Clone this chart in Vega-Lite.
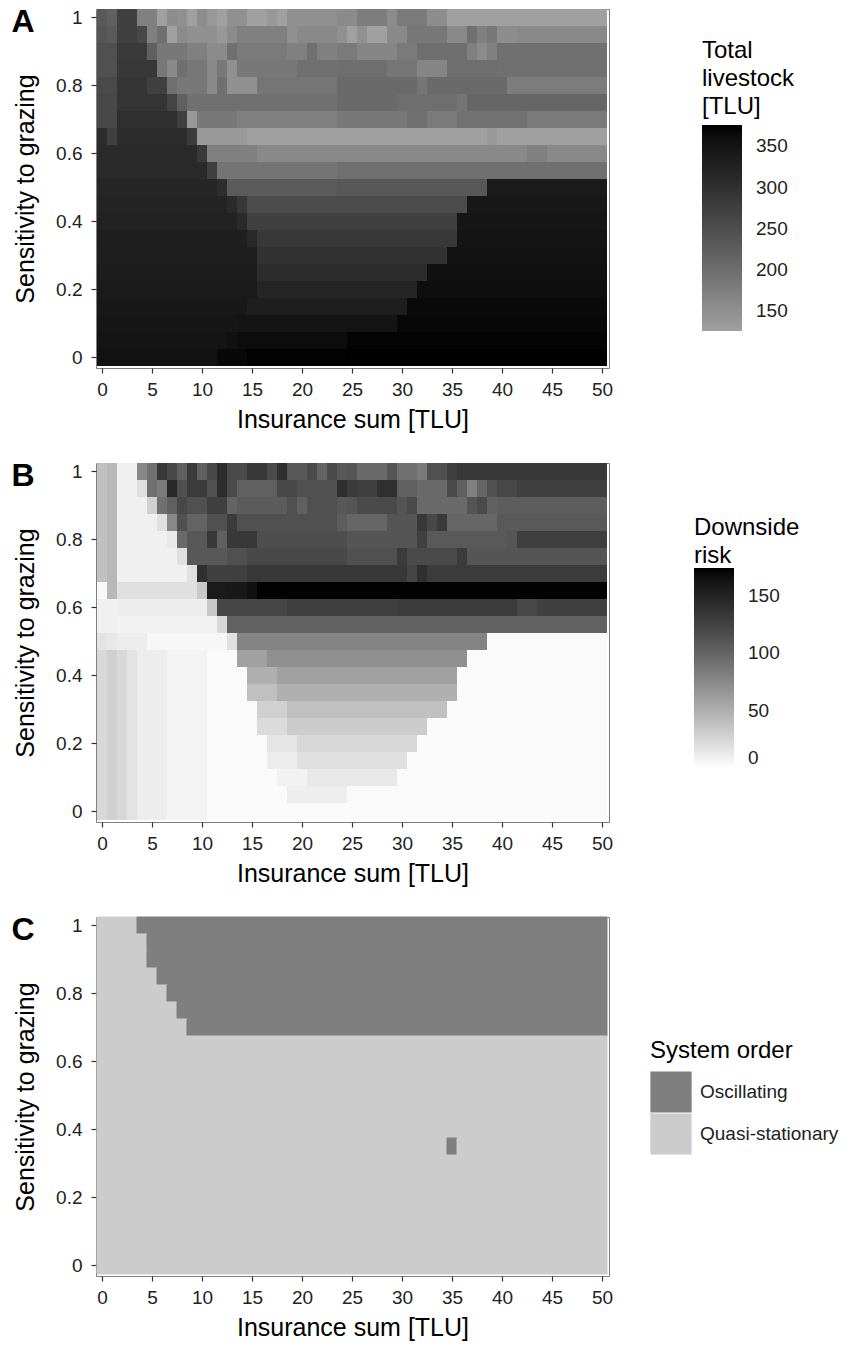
{
  "$schema": "https://vega.github.io/schema/vega-lite/v6.json",
  "background": "white",
  "padding": {"left": 10, "top": 5, "right": 5, "bottom": 4},
  "config": {
    "font": "Liberation Sans",
    "view": {"stroke": "#7f7f7f", "strokeWidth": 1},
    "axis": {"grid": false, "domain": false, "tickColor": "#333333", "tickSize": 5, "tickWidth": 1.2, "labelFontSize": 19, "labelColor": "#222222", "titleFontSize": 25, "titleFontWeight": "normal", "titleColor": "#000000"},
    "axisX": {"labelPadding": 7, "titlePadding": 8},
    "axisY": {"labelPadding": 9, "titlePadding": 17},
    "legend": {"titleFontSize": 24, "titleFontWeight": "normal", "titleColor": "#000000", "labelFontSize": 19, "labelColor": "#222222", "gradientThickness": 40, "gradientStrokeWidth": 0, "labelOffset": 12, "titleLineHeight": 28}
  },
  "datasets": {
    "livestock": [
      {"x":-0.5,"x2":0.5,"y":0.975,"y2":1.025,"tlu":231},{"x":0.5,"x2":1.5,"y":0.975,"y2":1.025,"tlu":221},{"x":1.5,"x2":3.5,"y":0.975,"y2":1.025,"tlu":273},{"x":3.5,"x2":5.5,"y":0.975,"y2":1.025,"tlu":172},{"x":5.5,"x2":6.5,"y":0.975,"y2":1.025,"tlu":126},{"x":6.5,"x2":7.5,"y":0.975,"y2":1.025,"tlu":154},{"x":7.5,"x2":8.5,"y":0.975,"y2":1.025,"tlu":149},{"x":8.5,"x2":9.5,"y":0.975,"y2":1.025,"tlu":126},{"x":9.5,"x2":10.5,"y":0.975,"y2":1.025,"tlu":154},{"x":10.5,"x2":11.5,"y":0.975,"y2":1.025,"tlu":137},{"x":11.5,"x2":12.5,"y":0.975,"y2":1.025,"tlu":126},{"x":12.5,"x2":14.5,"y":0.975,"y2":1.025,"tlu":149},{"x":14.5,"x2":16.5,"y":0.975,"y2":1.025,"tlu":126},{"x":16.5,"x2":17.5,"y":0.975,"y2":1.025,"tlu":137},{"x":17.5,"x2":18.5,"y":0.975,"y2":1.025,"tlu":126},{"x":18.5,"x2":23.5,"y":0.975,"y2":1.025,"tlu":149},{"x":23.5,"x2":25.5,"y":0.975,"y2":1.025,"tlu":157},{"x":25.5,"x2":28.5,"y":0.975,"y2":1.025,"tlu":177},{"x":28.5,"x2":29.5,"y":0.975,"y2":1.025,"tlu":157},{"x":29.5,"x2":32.5,"y":0.975,"y2":1.025,"tlu":181},{"x":32.5,"x2":34.5,"y":0.975,"y2":1.025,"tlu":154},{"x":34.5,"x2":50.5,"y":0.975,"y2":1.025,"tlu":126},
      {"x":-0.5,"x2":0.5,"y":0.925,"y2":0.975,"tlu":239},{"x":0.5,"x2":1.5,"y":0.925,"y2":0.975,"tlu":231},{"x":1.5,"x2":3.5,"y":0.925,"y2":0.975,"tlu":273},{"x":3.5,"x2":4.5,"y":0.925,"y2":0.975,"tlu":260},{"x":4.5,"x2":5.5,"y":0.925,"y2":0.975,"tlu":172},{"x":5.5,"x2":6.5,"y":0.925,"y2":0.975,"tlu":197},{"x":6.5,"x2":7.5,"y":0.925,"y2":0.975,"tlu":126},{"x":7.5,"x2":8.5,"y":0.925,"y2":0.975,"tlu":157},{"x":8.5,"x2":11.5,"y":0.925,"y2":0.975,"tlu":149},{"x":11.5,"x2":12.5,"y":0.925,"y2":0.975,"tlu":137},{"x":12.5,"x2":13.5,"y":0.925,"y2":0.975,"tlu":157},{"x":13.5,"x2":18.5,"y":0.925,"y2":0.975,"tlu":172},{"x":18.5,"x2":19.5,"y":0.925,"y2":0.975,"tlu":149},{"x":19.5,"x2":23.5,"y":0.925,"y2":0.975,"tlu":160},{"x":23.5,"x2":24.5,"y":0.925,"y2":0.975,"tlu":149},{"x":24.5,"x2":25.5,"y":0.925,"y2":0.975,"tlu":126},{"x":25.5,"x2":26.5,"y":0.925,"y2":0.975,"tlu":149},{"x":26.5,"x2":28.5,"y":0.925,"y2":0.975,"tlu":126},{"x":28.5,"x2":30.5,"y":0.925,"y2":0.975,"tlu":160},{"x":30.5,"x2":34.5,"y":0.925,"y2":0.975,"tlu":185},{"x":34.5,"x2":36.5,"y":0.925,"y2":0.975,"tlu":160},{"x":36.5,"x2":37.5,"y":0.925,"y2":0.975,"tlu":197},{"x":37.5,"x2":38.5,"y":0.925,"y2":0.975,"tlu":172},{"x":38.5,"x2":39.5,"y":0.925,"y2":0.975,"tlu":185},{"x":39.5,"x2":41.5,"y":0.925,"y2":0.975,"tlu":154},{"x":41.5,"x2":50.5,"y":0.925,"y2":0.975,"tlu":160},
      {"x":-0.5,"x2":1.5,"y":0.875,"y2":0.925,"tlu":247},{"x":1.5,"x2":4.5,"y":0.875,"y2":0.925,"tlu":283},{"x":4.5,"x2":5.5,"y":0.875,"y2":0.925,"tlu":221},{"x":5.5,"x2":8.5,"y":0.875,"y2":0.925,"tlu":185},{"x":8.5,"x2":10.5,"y":0.875,"y2":0.925,"tlu":172},{"x":10.5,"x2":12.5,"y":0.875,"y2":0.925,"tlu":157},{"x":12.5,"x2":13.5,"y":0.875,"y2":0.925,"tlu":197},{"x":13.5,"x2":18.5,"y":0.875,"y2":0.925,"tlu":181},{"x":18.5,"x2":20.5,"y":0.875,"y2":0.925,"tlu":172},{"x":20.5,"x2":21.5,"y":0.875,"y2":0.925,"tlu":197},{"x":21.5,"x2":23.5,"y":0.875,"y2":0.925,"tlu":172},{"x":23.5,"x2":25.5,"y":0.875,"y2":0.925,"tlu":181},{"x":25.5,"x2":29.5,"y":0.875,"y2":0.925,"tlu":165},{"x":29.5,"x2":31.5,"y":0.875,"y2":0.925,"tlu":181},{"x":31.5,"x2":36.5,"y":0.875,"y2":0.925,"tlu":200},{"x":36.5,"x2":37.5,"y":0.875,"y2":0.925,"tlu":172},{"x":37.5,"x2":38.5,"y":0.875,"y2":0.925,"tlu":157},{"x":38.5,"x2":39.5,"y":0.875,"y2":0.925,"tlu":172},{"x":39.5,"x2":50.5,"y":0.875,"y2":0.925,"tlu":197},
      {"x":-0.5,"x2":1.5,"y":0.825,"y2":0.875,"tlu":247},{"x":1.5,"x2":5.5,"y":0.825,"y2":0.875,"tlu":287},{"x":5.5,"x2":6.5,"y":0.825,"y2":0.875,"tlu":185},{"x":6.5,"x2":7.5,"y":0.825,"y2":0.875,"tlu":160},{"x":7.5,"x2":8.5,"y":0.825,"y2":0.875,"tlu":197},{"x":8.5,"x2":10.5,"y":0.825,"y2":0.875,"tlu":185},{"x":10.5,"x2":11.5,"y":0.825,"y2":0.875,"tlu":160},{"x":11.5,"x2":12.5,"y":0.825,"y2":0.875,"tlu":185},{"x":12.5,"x2":13.5,"y":0.825,"y2":0.875,"tlu":149},{"x":13.5,"x2":19.5,"y":0.825,"y2":0.875,"tlu":185},{"x":19.5,"x2":23.5,"y":0.825,"y2":0.875,"tlu":197},{"x":23.5,"x2":28.5,"y":0.825,"y2":0.875,"tlu":200},{"x":28.5,"x2":31.5,"y":0.825,"y2":0.875,"tlu":189},{"x":31.5,"x2":34.5,"y":0.825,"y2":0.875,"tlu":165},{"x":34.5,"x2":39.5,"y":0.825,"y2":0.875,"tlu":200},{"x":39.5,"x2":50.5,"y":0.825,"y2":0.875,"tlu":197},
      {"x":-0.5,"x2":1.5,"y":0.775,"y2":0.825,"tlu":257},{"x":1.5,"x2":4.5,"y":0.775,"y2":0.825,"tlu":292},{"x":4.5,"x2":6.5,"y":0.775,"y2":0.825,"tlu":273},{"x":6.5,"x2":7.5,"y":0.775,"y2":0.825,"tlu":197},{"x":7.5,"x2":10.5,"y":0.775,"y2":0.825,"tlu":185},{"x":10.5,"x2":11.5,"y":0.775,"y2":0.825,"tlu":160},{"x":11.5,"x2":12.5,"y":0.775,"y2":0.825,"tlu":197},{"x":12.5,"x2":15.5,"y":0.775,"y2":0.825,"tlu":149},{"x":15.5,"x2":23.5,"y":0.775,"y2":0.825,"tlu":189},{"x":23.5,"x2":31.5,"y":0.775,"y2":0.825,"tlu":206},{"x":31.5,"x2":32.5,"y":0.775,"y2":0.825,"tlu":189},{"x":32.5,"x2":40.5,"y":0.775,"y2":0.825,"tlu":206},{"x":40.5,"x2":50.5,"y":0.775,"y2":0.825,"tlu":178},
      {"x":-0.5,"x2":1.5,"y":0.725,"y2":0.775,"tlu":260},{"x":1.5,"x2":6.5,"y":0.725,"y2":0.775,"tlu":292},{"x":6.5,"x2":7.5,"y":0.725,"y2":0.775,"tlu":265},{"x":7.5,"x2":8.5,"y":0.725,"y2":0.775,"tlu":221},{"x":8.5,"x2":23.5,"y":0.725,"y2":0.775,"tlu":197},{"x":23.5,"x2":29.5,"y":0.725,"y2":0.775,"tlu":206},{"x":29.5,"x2":35.5,"y":0.725,"y2":0.775,"tlu":200},{"x":35.5,"x2":36.5,"y":0.725,"y2":0.775,"tlu":189},{"x":36.5,"x2":50.5,"y":0.725,"y2":0.775,"tlu":212},
      {"x":-0.5,"x2":1.5,"y":0.675,"y2":0.725,"tlu":260},{"x":1.5,"x2":7.5,"y":0.675,"y2":0.725,"tlu":302},{"x":7.5,"x2":8.5,"y":0.675,"y2":0.725,"tlu":273},{"x":8.5,"x2":9.5,"y":0.675,"y2":0.725,"tlu":137},{"x":9.5,"x2":13.5,"y":0.675,"y2":0.725,"tlu":185},{"x":13.5,"x2":23.5,"y":0.675,"y2":0.725,"tlu":172},{"x":23.5,"x2":30.5,"y":0.675,"y2":0.725,"tlu":185},{"x":30.5,"x2":32.5,"y":0.675,"y2":0.725,"tlu":197},{"x":32.5,"x2":35.5,"y":0.675,"y2":0.725,"tlu":181},{"x":35.5,"x2":42.5,"y":0.675,"y2":0.725,"tlu":194},{"x":42.5,"x2":50.5,"y":0.675,"y2":0.725,"tlu":181},
      {"x":-0.5,"x2":0.5,"y":0.625,"y2":0.675,"tlu":308},{"x":0.5,"x2":1.5,"y":0.625,"y2":0.675,"tlu":273},{"x":1.5,"x2":8.5,"y":0.625,"y2":0.675,"tlu":308},{"x":8.5,"x2":9.5,"y":0.625,"y2":0.675,"tlu":280},{"x":9.5,"x2":14.5,"y":0.625,"y2":0.675,"tlu":137},{"x":14.5,"x2":38.5,"y":0.625,"y2":0.675,"tlu":126},{"x":38.5,"x2":39.5,"y":0.625,"y2":0.675,"tlu":137},{"x":39.5,"x2":50.5,"y":0.625,"y2":0.675,"tlu":126},
      {"x":-0.5,"x2":9.5,"y":0.575,"y2":0.625,"tlu":311},{"x":9.5,"x2":10.5,"y":0.575,"y2":0.625,"tlu":283},{"x":10.5,"x2":15.5,"y":0.575,"y2":0.625,"tlu":172},{"x":15.5,"x2":42.5,"y":0.575,"y2":0.625,"tlu":160},{"x":42.5,"x2":44.5,"y":0.575,"y2":0.625,"tlu":172},{"x":44.5,"x2":50.5,"y":0.575,"y2":0.625,"tlu":160},
      {"x":-0.5,"x2":10.5,"y":0.525,"y2":0.575,"tlu":311},{"x":10.5,"x2":11.5,"y":0.525,"y2":0.575,"tlu":273},{"x":11.5,"x2":23.5,"y":0.525,"y2":0.575,"tlu":191},{"x":23.5,"x2":50.5,"y":0.525,"y2":0.575,"tlu":197},
      {"x":-0.5,"x2":11.5,"y":0.475,"y2":0.525,"tlu":318},{"x":11.5,"x2":12.5,"y":0.475,"y2":0.525,"tlu":305},{"x":12.5,"x2":23.5,"y":0.475,"y2":0.525,"tlu":229},{"x":23.5,"x2":38.5,"y":0.475,"y2":0.525,"tlu":234},{"x":38.5,"x2":50.5,"y":0.475,"y2":0.525,"tlu":341},
      {"x":-0.5,"x2":12.5,"y":0.425,"y2":0.475,"tlu":322},{"x":12.5,"x2":13.5,"y":0.425,"y2":0.475,"tlu":311},{"x":13.5,"x2":14.5,"y":0.425,"y2":0.475,"tlu":287},{"x":14.5,"x2":36.5,"y":0.425,"y2":0.475,"tlu":255},{"x":36.5,"x2":50.5,"y":0.425,"y2":0.475,"tlu":344},
      {"x":-0.5,"x2":13.5,"y":0.375,"y2":0.425,"tlu":326},{"x":13.5,"x2":14.5,"y":0.375,"y2":0.425,"tlu":311},{"x":14.5,"x2":35.5,"y":0.375,"y2":0.425,"tlu":273},{"x":35.5,"x2":50.5,"y":0.375,"y2":0.425,"tlu":349},
      {"x":-0.5,"x2":14.5,"y":0.325,"y2":0.375,"tlu":331},{"x":14.5,"x2":15.5,"y":0.325,"y2":0.375,"tlu":315},{"x":15.5,"x2":35.5,"y":0.325,"y2":0.375,"tlu":287},{"x":35.5,"x2":50.5,"y":0.325,"y2":0.375,"tlu":352},
      {"x":-0.5,"x2":15.5,"y":0.275,"y2":0.325,"tlu":333},{"x":15.5,"x2":34.5,"y":0.275,"y2":0.325,"tlu":297},{"x":34.5,"x2":50.5,"y":0.275,"y2":0.325,"tlu":355},
      {"x":-0.5,"x2":15.5,"y":0.225,"y2":0.275,"tlu":337},{"x":15.5,"x2":32.5,"y":0.225,"y2":0.275,"tlu":308},{"x":32.5,"x2":50.5,"y":0.225,"y2":0.275,"tlu":358},
      {"x":-0.5,"x2":15.5,"y":0.175,"y2":0.225,"tlu":341},{"x":15.5,"x2":31.5,"y":0.175,"y2":0.225,"tlu":320},{"x":31.5,"x2":50.5,"y":0.175,"y2":0.225,"tlu":361},
      {"x":-0.5,"x2":14.5,"y":0.125,"y2":0.175,"tlu":344},{"x":14.5,"x2":30.5,"y":0.125,"y2":0.175,"tlu":333},{"x":30.5,"x2":50.5,"y":0.125,"y2":0.175,"tlu":366},
      {"x":-0.5,"x2":13.5,"y":0.075,"y2":0.125,"tlu":349},{"x":13.5,"x2":29.5,"y":0.075,"y2":0.125,"tlu":352},{"x":29.5,"x2":50.5,"y":0.075,"y2":0.125,"tlu":368},
      {"x":-0.5,"x2":12.5,"y":0.025,"y2":0.075,"tlu":352},{"x":12.5,"x2":13.5,"y":0.025,"y2":0.075,"tlu":358},{"x":13.5,"x2":24.5,"y":0.025,"y2":0.075,"tlu":363},{"x":24.5,"x2":50.5,"y":0.025,"y2":0.075,"tlu":372},
      {"x":-0.5,"x2":11.5,"y":-0.025,"y2":0.025,"tlu":355},{"x":11.5,"x2":14.5,"y":-0.025,"y2":0.025,"tlu":368},{"x":14.5,"x2":24.5,"y":-0.025,"y2":0.025,"tlu":374},{"x":24.5,"x2":50.5,"y":-0.025,"y2":0.025,"tlu":376}
    ],
    "risk": [
      {"x":-0.5,"x2":0.5,"y":0.975,"y2":1.025,"risk":39},{"x":0.5,"x2":1.5,"y":0.975,"y2":1.025,"risk":44},{"x":1.5,"x2":3.5,"y":0.975,"y2":1.025,"risk":9},{"x":3.5,"x2":4.5,"y":0.975,"y2":1.025,"risk":75},{"x":4.5,"x2":5.5,"y":0.975,"y2":1.025,"risk":92},{"x":5.5,"x2":6.5,"y":0.975,"y2":1.025,"risk":133},{"x":6.5,"x2":7.5,"y":0.975,"y2":1.025,"risk":121},{"x":7.5,"x2":8.5,"y":0.975,"y2":1.025,"risk":103},{"x":8.5,"x2":9.5,"y":0.975,"y2":1.025,"risk":131},{"x":9.5,"x2":10.5,"y":0.975,"y2":1.025,"risk":103},{"x":10.5,"x2":11.5,"y":0.975,"y2":1.025,"risk":121},{"x":11.5,"x2":12.5,"y":0.975,"y2":1.025,"risk":143},{"x":12.5,"x2":14.5,"y":0.975,"y2":1.025,"risk":119},{"x":14.5,"x2":16.5,"y":0.975,"y2":1.025,"risk":133},{"x":16.5,"x2":17.5,"y":0.975,"y2":1.025,"risk":119},{"x":17.5,"x2":18.5,"y":0.975,"y2":1.025,"risk":140},{"x":18.5,"x2":20.5,"y":0.975,"y2":1.025,"risk":109},{"x":20.5,"x2":21.5,"y":0.975,"y2":1.025,"risk":119},{"x":21.5,"x2":22.5,"y":0.975,"y2":1.025,"risk":100},{"x":22.5,"x2":23.5,"y":0.975,"y2":1.025,"risk":119},{"x":23.5,"x2":24.5,"y":0.975,"y2":1.025,"risk":109},{"x":24.5,"x2":25.5,"y":0.975,"y2":1.025,"risk":111},{"x":25.5,"x2":28.5,"y":0.975,"y2":1.025,"risk":96},{"x":28.5,"x2":29.5,"y":0.975,"y2":1.025,"risk":111},{"x":29.5,"x2":31.5,"y":0.975,"y2":1.025,"risk":92},{"x":31.5,"x2":32.5,"y":0.975,"y2":1.025,"risk":85},{"x":32.5,"x2":34.5,"y":0.975,"y2":1.025,"risk":115},{"x":34.5,"x2":35.5,"y":0.975,"y2":1.025,"risk":127},{"x":35.5,"x2":50.5,"y":0.975,"y2":1.025,"risk":133},
      {"x":-0.5,"x2":0.5,"y":0.925,"y2":0.975,"risk":39},{"x":0.5,"x2":1.5,"y":0.925,"y2":0.975,"risk":44},{"x":1.5,"x2":3.5,"y":0.925,"y2":0.975,"risk":9},{"x":3.5,"x2":4.5,"y":0.925,"y2":0.975,"risk":19},{"x":4.5,"x2":5.5,"y":0.925,"y2":0.975,"risk":92},{"x":5.5,"x2":6.5,"y":0.925,"y2":0.975,"risk":85},{"x":6.5,"x2":7.5,"y":0.925,"y2":0.975,"risk":146},{"x":7.5,"x2":8.5,"y":0.925,"y2":0.975,"risk":115},{"x":8.5,"x2":10.5,"y":0.925,"y2":0.975,"risk":131},{"x":10.5,"x2":11.5,"y":0.925,"y2":0.975,"risk":115},{"x":11.5,"x2":12.5,"y":0.925,"y2":0.975,"risk":141},{"x":12.5,"x2":13.5,"y":0.925,"y2":0.975,"risk":119},{"x":13.5,"x2":17.5,"y":0.925,"y2":0.975,"risk":103},{"x":17.5,"x2":19.5,"y":0.925,"y2":0.975,"risk":121},{"x":19.5,"x2":23.5,"y":0.925,"y2":0.975,"risk":115},{"x":23.5,"x2":24.5,"y":0.925,"y2":0.975,"risk":140},{"x":24.5,"x2":25.5,"y":0.925,"y2":0.975,"risk":131},{"x":25.5,"x2":27.5,"y":0.925,"y2":0.975,"risk":127},{"x":27.5,"x2":29.5,"y":0.925,"y2":0.975,"risk":140},{"x":29.5,"x2":31.5,"y":0.925,"y2":0.975,"risk":103},{"x":31.5,"x2":34.5,"y":0.925,"y2":0.975,"risk":96},{"x":34.5,"x2":35.5,"y":0.925,"y2":0.975,"risk":119},{"x":35.5,"x2":36.5,"y":0.925,"y2":0.975,"risk":103},{"x":36.5,"x2":37.5,"y":0.925,"y2":0.975,"risk":81},{"x":37.5,"x2":38.5,"y":0.925,"y2":0.975,"risk":99},{"x":38.5,"x2":39.5,"y":0.925,"y2":0.975,"risk":115},{"x":39.5,"x2":41.5,"y":0.925,"y2":0.975,"risk":121},{"x":41.5,"x2":50.5,"y":0.925,"y2":0.975,"risk":127},
      {"x":-0.5,"x2":0.5,"y":0.875,"y2":0.925,"risk":39},{"x":0.5,"x2":1.5,"y":0.875,"y2":0.925,"risk":44},{"x":1.5,"x2":4.5,"y":0.875,"y2":0.925,"risk":9},{"x":4.5,"x2":5.5,"y":0.875,"y2":0.925,"risk":29},{"x":5.5,"x2":6.5,"y":0.875,"y2":0.925,"risk":92},{"x":6.5,"x2":7.5,"y":0.875,"y2":0.925,"risk":103},{"x":7.5,"x2":8.5,"y":0.875,"y2":0.925,"risk":121},{"x":8.5,"x2":10.5,"y":0.875,"y2":0.925,"risk":115},{"x":10.5,"x2":12.5,"y":0.875,"y2":0.925,"risk":127},{"x":12.5,"x2":13.5,"y":0.875,"y2":0.925,"risk":100},{"x":13.5,"x2":18.5,"y":0.875,"y2":0.925,"risk":106},{"x":18.5,"x2":19.5,"y":0.875,"y2":0.925,"risk":115},{"x":19.5,"x2":20.5,"y":0.875,"y2":0.925,"risk":103},{"x":20.5,"x2":23.5,"y":0.875,"y2":0.925,"risk":115},{"x":23.5,"x2":24.5,"y":0.875,"y2":0.925,"risk":109},{"x":24.5,"x2":25.5,"y":0.875,"y2":0.925,"risk":111},{"x":25.5,"x2":29.5,"y":0.875,"y2":0.925,"risk":119},{"x":29.5,"x2":30.5,"y":0.875,"y2":0.925,"risk":111},{"x":30.5,"x2":31.5,"y":0.875,"y2":0.925,"risk":119},{"x":31.5,"x2":36.5,"y":0.875,"y2":0.925,"risk":96},{"x":36.5,"x2":37.5,"y":0.875,"y2":0.925,"risk":111},{"x":37.5,"x2":38.5,"y":0.875,"y2":0.925,"risk":119},{"x":38.5,"x2":39.5,"y":0.875,"y2":0.925,"risk":103},{"x":39.5,"x2":50.5,"y":0.875,"y2":0.925,"risk":105},
      {"x":-0.5,"x2":0.5,"y":0.825,"y2":0.875,"risk":39},{"x":0.5,"x2":1.5,"y":0.825,"y2":0.875,"risk":44},{"x":1.5,"x2":5.5,"y":0.825,"y2":0.875,"risk":9},{"x":5.5,"x2":6.5,"y":0.825,"y2":0.875,"risk":19},{"x":6.5,"x2":7.5,"y":0.825,"y2":0.875,"risk":75},{"x":7.5,"x2":8.5,"y":0.825,"y2":0.875,"risk":115},{"x":8.5,"x2":10.5,"y":0.825,"y2":0.875,"risk":100},{"x":10.5,"x2":12.5,"y":0.825,"y2":0.875,"risk":115},{"x":12.5,"x2":13.5,"y":0.825,"y2":0.875,"risk":131},{"x":13.5,"x2":23.5,"y":0.825,"y2":0.875,"risk":115},{"x":23.5,"x2":24.5,"y":0.825,"y2":0.875,"risk":105},{"x":24.5,"x2":28.5,"y":0.825,"y2":0.875,"risk":99},{"x":28.5,"x2":31.5,"y":0.825,"y2":0.875,"risk":111},{"x":31.5,"x2":32.5,"y":0.825,"y2":0.875,"risk":133},{"x":32.5,"x2":33.5,"y":0.825,"y2":0.875,"risk":121},{"x":33.5,"x2":34.5,"y":0.825,"y2":0.875,"risk":131},{"x":34.5,"x2":39.5,"y":0.825,"y2":0.875,"risk":99},{"x":39.5,"x2":50.5,"y":0.825,"y2":0.875,"risk":108},
      {"x":-0.5,"x2":0.5,"y":0.775,"y2":0.825,"risk":39},{"x":0.5,"x2":1.5,"y":0.775,"y2":0.825,"risk":44},{"x":1.5,"x2":6.5,"y":0.775,"y2":0.825,"risk":9},{"x":6.5,"x2":7.5,"y":0.775,"y2":0.825,"risk":14},{"x":7.5,"x2":8.5,"y":0.775,"y2":0.825,"risk":96},{"x":8.5,"x2":10.5,"y":0.775,"y2":0.825,"risk":109},{"x":10.5,"x2":11.5,"y":0.775,"y2":0.825,"risk":133},{"x":11.5,"x2":12.5,"y":0.775,"y2":0.825,"risk":103},{"x":12.5,"x2":15.5,"y":0.775,"y2":0.825,"risk":133},{"x":15.5,"x2":24.5,"y":0.775,"y2":0.825,"risk":116},{"x":24.5,"x2":31.5,"y":0.775,"y2":0.825,"risk":111},{"x":31.5,"x2":32.5,"y":0.775,"y2":0.825,"risk":127},{"x":32.5,"x2":40.5,"y":0.775,"y2":0.825,"risk":108},{"x":40.5,"x2":41.5,"y":0.775,"y2":0.825,"risk":111},{"x":41.5,"x2":50.5,"y":0.775,"y2":0.825,"risk":128},
      {"x":-0.5,"x2":0.5,"y":0.725,"y2":0.775,"risk":39},{"x":0.5,"x2":1.5,"y":0.725,"y2":0.775,"risk":44},{"x":1.5,"x2":7.5,"y":0.725,"y2":0.775,"risk":9},{"x":7.5,"x2":8.5,"y":0.725,"y2":0.775,"risk":19},{"x":8.5,"x2":12.5,"y":0.725,"y2":0.775,"risk":109},{"x":12.5,"x2":14.5,"y":0.725,"y2":0.775,"risk":115},{"x":14.5,"x2":24.5,"y":0.725,"y2":0.775,"risk":121},{"x":24.5,"x2":29.5,"y":0.725,"y2":0.775,"risk":115},{"x":29.5,"x2":30.5,"y":0.725,"y2":0.775,"risk":131},{"x":30.5,"x2":35.5,"y":0.725,"y2":0.775,"risk":119},{"x":35.5,"x2":36.5,"y":0.725,"y2":0.775,"risk":131},{"x":36.5,"x2":50.5,"y":0.725,"y2":0.775,"risk":111},
      {"x":-0.5,"x2":0.5,"y":0.675,"y2":0.725,"risk":39},{"x":0.5,"x2":1.5,"y":0.675,"y2":0.725,"risk":44},{"x":1.5,"x2":8.5,"y":0.675,"y2":0.725,"risk":9},{"x":8.5,"x2":9.5,"y":0.675,"y2":0.725,"risk":19},{"x":9.5,"x2":10.5,"y":0.675,"y2":0.725,"risk":140},{"x":10.5,"x2":14.5,"y":0.675,"y2":0.725,"risk":127},{"x":14.5,"x2":30.5,"y":0.675,"y2":0.725,"risk":133},{"x":30.5,"x2":31.5,"y":0.675,"y2":0.725,"risk":124},{"x":31.5,"x2":32.5,"y":0.675,"y2":0.725,"risk":140},{"x":32.5,"x2":50.5,"y":0.675,"y2":0.725,"risk":131},
      {"x":-0.5,"x2":0.5,"y":0.625,"y2":0.675,"risk":4},{"x":0.5,"x2":1.5,"y":0.625,"y2":0.675,"risk":44},{"x":1.5,"x2":9.5,"y":0.625,"y2":0.675,"risk":19},{"x":9.5,"x2":10.5,"y":0.625,"y2":0.675,"risk":34},{"x":10.5,"x2":12.5,"y":0.625,"y2":0.675,"risk":158},{"x":12.5,"x2":14.5,"y":0.625,"y2":0.675,"risk":160},{"x":14.5,"x2":15.5,"y":0.625,"y2":0.675,"risk":166},{"x":15.5,"x2":50.5,"y":0.625,"y2":0.675,"risk":173},
      {"x":-0.5,"x2":1.5,"y":0.575,"y2":0.625,"risk":9},{"x":1.5,"x2":10.5,"y":0.575,"y2":0.625,"risk":11},{"x":10.5,"x2":11.5,"y":0.575,"y2":0.625,"risk":34},{"x":11.5,"x2":18.5,"y":0.575,"y2":0.625,"risk":122},{"x":18.5,"x2":29.5,"y":0.575,"y2":0.625,"risk":127},{"x":29.5,"x2":41.5,"y":0.575,"y2":0.625,"risk":131},{"x":41.5,"x2":43.5,"y":0.575,"y2":0.625,"risk":121},{"x":43.5,"x2":50.5,"y":0.575,"y2":0.625,"risk":127},
      {"x":-0.5,"x2":1.5,"y":0.525,"y2":0.575,"risk":9},{"x":1.5,"x2":11.5,"y":0.525,"y2":0.575,"risk":8},{"x":11.5,"x2":12.5,"y":0.525,"y2":0.575,"risk":24},{"x":12.5,"x2":50.5,"y":0.525,"y2":0.575,"risk":102},
      {"x":-0.5,"x2":0.5,"y":0.475,"y2":0.525,"risk":17},{"x":0.5,"x2":1.5,"y":0.475,"y2":0.525,"risk":14},{"x":1.5,"x2":4.5,"y":0.475,"y2":0.525,"risk":11},{"x":4.5,"x2":12.5,"y":0.475,"y2":0.525,"risk":5},{"x":12.5,"x2":13.5,"y":0.475,"y2":0.525,"risk":19},{"x":13.5,"x2":38.5,"y":0.475,"y2":0.525,"risk":78},{"x":38.5,"x2":50.5,"y":0.475,"y2":0.525,"risk":3},
      {"x":-0.5,"x2":0.5,"y":0.425,"y2":0.475,"risk":24},{"x":0.5,"x2":1.5,"y":0.425,"y2":0.475,"risk":29},{"x":1.5,"x2":2.5,"y":0.425,"y2":0.475,"risk":24},{"x":2.5,"x2":3.5,"y":0.425,"y2":0.475,"risk":17},{"x":3.5,"x2":6.5,"y":0.425,"y2":0.475,"risk":11},{"x":6.5,"x2":10.5,"y":0.425,"y2":0.475,"risk":7},{"x":10.5,"x2":13.5,"y":0.425,"y2":0.475,"risk":3},{"x":13.5,"x2":16.5,"y":0.425,"y2":0.475,"risk":59},{"x":16.5,"x2":36.5,"y":0.425,"y2":0.475,"risk":70},{"x":36.5,"x2":50.5,"y":0.425,"y2":0.475,"risk":3},
      {"x":-0.5,"x2":0.5,"y":0.375,"y2":0.425,"risk":24},{"x":0.5,"x2":1.5,"y":0.375,"y2":0.425,"risk":29},{"x":1.5,"x2":2.5,"y":0.375,"y2":0.425,"risk":24},{"x":2.5,"x2":3.5,"y":0.375,"y2":0.425,"risk":17},{"x":3.5,"x2":6.5,"y":0.375,"y2":0.425,"risk":11},{"x":6.5,"x2":10.5,"y":0.375,"y2":0.425,"risk":7},{"x":10.5,"x2":14.5,"y":0.375,"y2":0.425,"risk":3},{"x":14.5,"x2":17.5,"y":0.375,"y2":0.425,"risk":49},{"x":17.5,"x2":35.5,"y":0.375,"y2":0.425,"risk":59},{"x":35.5,"x2":50.5,"y":0.375,"y2":0.425,"risk":3},
      {"x":-0.5,"x2":0.5,"y":0.325,"y2":0.375,"risk":24},{"x":0.5,"x2":1.5,"y":0.325,"y2":0.375,"risk":29},{"x":1.5,"x2":2.5,"y":0.325,"y2":0.375,"risk":24},{"x":2.5,"x2":3.5,"y":0.325,"y2":0.375,"risk":17},{"x":3.5,"x2":6.5,"y":0.325,"y2":0.375,"risk":11},{"x":6.5,"x2":10.5,"y":0.325,"y2":0.375,"risk":7},{"x":10.5,"x2":14.5,"y":0.325,"y2":0.375,"risk":3},{"x":14.5,"x2":17.5,"y":0.325,"y2":0.375,"risk":39},{"x":17.5,"x2":35.5,"y":0.325,"y2":0.375,"risk":49},{"x":35.5,"x2":50.5,"y":0.325,"y2":0.375,"risk":3},
      {"x":-0.5,"x2":0.5,"y":0.275,"y2":0.325,"risk":24},{"x":0.5,"x2":1.5,"y":0.275,"y2":0.325,"risk":29},{"x":1.5,"x2":2.5,"y":0.275,"y2":0.325,"risk":24},{"x":2.5,"x2":3.5,"y":0.275,"y2":0.325,"risk":17},{"x":3.5,"x2":6.5,"y":0.275,"y2":0.325,"risk":11},{"x":6.5,"x2":10.5,"y":0.275,"y2":0.325,"risk":7},{"x":10.5,"x2":15.5,"y":0.275,"y2":0.325,"risk":3},{"x":15.5,"x2":18.5,"y":0.275,"y2":0.325,"risk":29},{"x":18.5,"x2":34.5,"y":0.275,"y2":0.325,"risk":39},{"x":34.5,"x2":50.5,"y":0.275,"y2":0.325,"risk":3},
      {"x":-0.5,"x2":0.5,"y":0.225,"y2":0.275,"risk":24},{"x":0.5,"x2":1.5,"y":0.225,"y2":0.275,"risk":29},{"x":1.5,"x2":2.5,"y":0.225,"y2":0.275,"risk":24},{"x":2.5,"x2":3.5,"y":0.225,"y2":0.275,"risk":17},{"x":3.5,"x2":6.5,"y":0.225,"y2":0.275,"risk":11},{"x":6.5,"x2":10.5,"y":0.225,"y2":0.275,"risk":7},{"x":10.5,"x2":15.5,"y":0.225,"y2":0.275,"risk":3},{"x":15.5,"x2":18.5,"y":0.225,"y2":0.275,"risk":22},{"x":18.5,"x2":32.5,"y":0.225,"y2":0.275,"risk":31},{"x":32.5,"x2":50.5,"y":0.225,"y2":0.275,"risk":3},
      {"x":-0.5,"x2":0.5,"y":0.175,"y2":0.225,"risk":24},{"x":0.5,"x2":1.5,"y":0.175,"y2":0.225,"risk":29},{"x":1.5,"x2":2.5,"y":0.175,"y2":0.225,"risk":24},{"x":2.5,"x2":3.5,"y":0.175,"y2":0.225,"risk":17},{"x":3.5,"x2":6.5,"y":0.175,"y2":0.225,"risk":11},{"x":6.5,"x2":10.5,"y":0.175,"y2":0.225,"risk":7},{"x":10.5,"x2":16.5,"y":0.175,"y2":0.225,"risk":3},{"x":16.5,"x2":19.5,"y":0.175,"y2":0.225,"risk":16},{"x":19.5,"x2":31.5,"y":0.175,"y2":0.225,"risk":24},{"x":31.5,"x2":50.5,"y":0.175,"y2":0.225,"risk":3},
      {"x":-0.5,"x2":0.5,"y":0.125,"y2":0.175,"risk":24},{"x":0.5,"x2":1.5,"y":0.125,"y2":0.175,"risk":29},{"x":1.5,"x2":2.5,"y":0.125,"y2":0.175,"risk":24},{"x":2.5,"x2":3.5,"y":0.125,"y2":0.175,"risk":17},{"x":3.5,"x2":6.5,"y":0.125,"y2":0.175,"risk":11},{"x":6.5,"x2":10.5,"y":0.125,"y2":0.175,"risk":7},{"x":10.5,"x2":16.5,"y":0.125,"y2":0.175,"risk":3},{"x":16.5,"x2":19.5,"y":0.125,"y2":0.175,"risk":11},{"x":19.5,"x2":30.5,"y":0.125,"y2":0.175,"risk":19},{"x":30.5,"x2":50.5,"y":0.125,"y2":0.175,"risk":3},
      {"x":-0.5,"x2":0.5,"y":0.075,"y2":0.125,"risk":24},{"x":0.5,"x2":1.5,"y":0.075,"y2":0.125,"risk":29},{"x":1.5,"x2":2.5,"y":0.075,"y2":0.125,"risk":24},{"x":2.5,"x2":3.5,"y":0.075,"y2":0.125,"risk":17},{"x":3.5,"x2":6.5,"y":0.075,"y2":0.125,"risk":11},{"x":6.5,"x2":10.5,"y":0.075,"y2":0.125,"risk":7},{"x":10.5,"x2":17.5,"y":0.075,"y2":0.125,"risk":3},{"x":17.5,"x2":20.5,"y":0.075,"y2":0.125,"risk":8},{"x":20.5,"x2":29.5,"y":0.075,"y2":0.125,"risk":14},{"x":29.5,"x2":50.5,"y":0.075,"y2":0.125,"risk":3},
      {"x":-0.5,"x2":0.5,"y":0.025,"y2":0.075,"risk":24},{"x":0.5,"x2":1.5,"y":0.025,"y2":0.075,"risk":29},{"x":1.5,"x2":2.5,"y":0.025,"y2":0.075,"risk":24},{"x":2.5,"x2":3.5,"y":0.025,"y2":0.075,"risk":17},{"x":3.5,"x2":6.5,"y":0.025,"y2":0.075,"risk":11},{"x":6.5,"x2":10.5,"y":0.025,"y2":0.075,"risk":7},{"x":10.5,"x2":18.5,"y":0.025,"y2":0.075,"risk":3},{"x":18.5,"x2":24.5,"y":0.025,"y2":0.075,"risk":10},{"x":24.5,"x2":50.5,"y":0.025,"y2":0.075,"risk":3},
      {"x":-0.5,"x2":0.5,"y":-0.025,"y2":0.025,"risk":24},{"x":0.5,"x2":1.5,"y":-0.025,"y2":0.025,"risk":29},{"x":1.5,"x2":2.5,"y":-0.025,"y2":0.025,"risk":24},{"x":2.5,"x2":3.5,"y":-0.025,"y2":0.025,"risk":17},{"x":3.5,"x2":6.5,"y":-0.025,"y2":0.025,"risk":11},{"x":6.5,"x2":10.5,"y":-0.025,"y2":0.025,"risk":7},{"x":10.5,"x2":50.5,"y":-0.025,"y2":0.025,"risk":3}
    ],
    "order": [
      {"x":-0.5,"x2":3.5,"y":0.975,"y2":1.025,"order":"Quasi-stationary"},{"x":3.5,"x2":50.5,"y":0.975,"y2":1.025,"order":"Oscillating"},
      {"x":-0.5,"x2":4.5,"y":0.925,"y2":0.975,"order":"Quasi-stationary"},{"x":4.5,"x2":50.5,"y":0.925,"y2":0.975,"order":"Oscillating"},
      {"x":-0.5,"x2":4.5,"y":0.875,"y2":0.925,"order":"Quasi-stationary"},{"x":4.5,"x2":50.5,"y":0.875,"y2":0.925,"order":"Oscillating"},
      {"x":-0.5,"x2":5.5,"y":0.825,"y2":0.875,"order":"Quasi-stationary"},{"x":5.5,"x2":50.5,"y":0.825,"y2":0.875,"order":"Oscillating"},
      {"x":-0.5,"x2":6.5,"y":0.775,"y2":0.825,"order":"Quasi-stationary"},{"x":6.5,"x2":50.5,"y":0.775,"y2":0.825,"order":"Oscillating"},
      {"x":-0.5,"x2":7.5,"y":0.725,"y2":0.775,"order":"Quasi-stationary"},{"x":7.5,"x2":50.5,"y":0.725,"y2":0.775,"order":"Oscillating"},
      {"x":-0.5,"x2":8.5,"y":0.675,"y2":0.725,"order":"Quasi-stationary"},{"x":8.5,"x2":50.5,"y":0.675,"y2":0.725,"order":"Oscillating"},
      {"x":-0.5,"x2":50.5,"y":0.625,"y2":0.675,"order":"Quasi-stationary"},
      {"x":-0.5,"x2":50.5,"y":0.575,"y2":0.625,"order":"Quasi-stationary"},
      {"x":-0.5,"x2":50.5,"y":0.525,"y2":0.575,"order":"Quasi-stationary"},
      {"x":-0.5,"x2":50.5,"y":0.475,"y2":0.525,"order":"Quasi-stationary"},
      {"x":-0.5,"x2":50.5,"y":0.425,"y2":0.475,"order":"Quasi-stationary"},
      {"x":-0.5,"x2":50.5,"y":0.375,"y2":0.425,"order":"Quasi-stationary"},
      {"x":-0.5,"x2":34.5,"y":0.325,"y2":0.375,"order":"Quasi-stationary"},{"x":34.5,"x2":35.5,"y":0.325,"y2":0.375,"order":"Oscillating"},{"x":35.5,"x2":50.5,"y":0.325,"y2":0.375,"order":"Quasi-stationary"},
      {"x":-0.5,"x2":50.5,"y":0.275,"y2":0.325,"order":"Quasi-stationary"},
      {"x":-0.5,"x2":50.5,"y":0.225,"y2":0.275,"order":"Quasi-stationary"},
      {"x":-0.5,"x2":50.5,"y":0.175,"y2":0.225,"order":"Quasi-stationary"},
      {"x":-0.5,"x2":50.5,"y":0.125,"y2":0.175,"order":"Quasi-stationary"},
      {"x":-0.5,"x2":50.5,"y":0.075,"y2":0.125,"order":"Quasi-stationary"},
      {"x":-0.5,"x2":50.5,"y":0.025,"y2":0.075,"order":"Quasi-stationary"},
      {"x":-0.5,"x2":50.5,"y":-0.025,"y2":0.025,"order":"Quasi-stationary"}
    ]
  },
  "spacing": 26,
  "resolve": {"scale": {"color": "independent", "stroke": "independent"}, "legend": {"color": "independent"}},
  "vconcat": [
    {
      "width": 513,
      "height": 359,
      "layer": [
        {
          "data": {"name": "livestock"},
          "mark": {"type": "rect"},
          "encoding": {
            "x": {"field": "x", "type": "quantitative", "scale": {"domain": [-0.6, 50.7], "nice": false, "zero": false}, "axis": {"values": [0, 5, 10, 15, 20, 25, 30, 35, 40, 45, 50], "title": "Insurance sum [TLU]"}},
            "x2": {"field": "x2"},
            "y": {"field": "y", "type": "quantitative", "scale": {"domain": [-0.0309, 1.025], "nice": false, "zero": false}, "axis": {"values": [0, 0.2, 0.4, 0.6, 0.8, 1], "format": "~g", "title": "Sensitivity to grazing"}},
            "y2": {"field": "y2"},
            "color": {"field": "tlu", "type": "quantitative", "scale": {"domain": [126, 376], "range": ["#a0a0a0", "#000000"], "interpolate": "lab"}, "legend": {"type": "gradient", "title": ["Total", "livestock", "[TLU]"], "orient": "none", "legendX": 606, "legendY": 30, "gradientLength": 206, "tickCount": 5, "labelBaseline": "middle", "labelOffset": 14, "titlePadding": 6}}
          }
        },
        {
          "data": {"values": [{"panel": "A"}]},
          "mark": {"type": "text", "align": "left", "baseline": "alphabetic", "fontSize": 32, "fontWeight": "bold", "color": "#000000"},
          "encoding": {"text": {"field": "panel"}, "x": {"datum": -9.05, "type": "quantitative"}, "y": {"datum": 0.957, "type": "quantitative"}}
        }
      ]
    },
    {
      "width": 513,
      "height": 359,
      "layer": [
        {
          "data": {"name": "risk"},
          "mark": {"type": "rect"},
          "encoding": {
            "x": {"field": "x", "type": "quantitative", "scale": {"domain": [-0.6, 50.7], "nice": false, "zero": false}, "axis": {"values": [0, 5, 10, 15, 20, 25, 30, 35, 40, 45, 50], "title": "Insurance sum [TLU]"}},
            "x2": {"field": "x2"},
            "y": {"field": "y", "type": "quantitative", "scale": {"domain": [-0.0309, 1.025], "nice": false, "zero": false}, "axis": {"values": [0, 0.2, 0.4, 0.6, 0.8, 1], "format": "~g", "title": "Sensitivity to grazing"}},
            "y2": {"field": "y2"},
            "color": {"field": "risk", "type": "quantitative", "scale": {"domain": [0, 174], "range": ["#ffffff", "#000000"], "interpolate": "lab"}, "legend": {"type": "gradient", "title": ["Downside", "risk"], "orient": "none", "legendX": 598, "legendY": 53, "gradientLength": 200, "tickCount": 5, "labelBaseline": "middle", "labelOffset": 14, "titlePadding": 0}}
          }
        },
        {
          "data": {"values": [{"panel": "B"}]},
          "mark": {"type": "text", "align": "left", "baseline": "alphabetic", "fontSize": 32, "fontWeight": "bold", "color": "#000000"},
          "encoding": {"text": {"field": "panel"}, "x": {"datum": -9.05, "type": "quantitative"}, "y": {"datum": 0.957, "type": "quantitative"}}
        }
      ]
    },
    {
      "width": 513,
      "height": 359,
      "layer": [
        {
          "data": {"name": "order"},
          "mark": {"type": "rect", "strokeWidth": 1},
          "encoding": {
            "x": {"field": "x", "type": "quantitative", "scale": {"domain": [-0.6, 50.7], "nice": false, "zero": false}, "axis": {"values": [0, 5, 10, 15, 20, 25, 30, 35, 40, 45, 50], "title": "Insurance sum [TLU]"}},
            "x2": {"field": "x2"},
            "y": {"field": "y", "type": "quantitative", "scale": {"domain": [-0.0309, 1.025], "nice": false, "zero": false}, "axis": {"values": [0, 0.2, 0.4, 0.6, 0.8, 1], "format": "~g", "title": "Sensitivity to grazing"}},
            "y2": {"field": "y2"},
            "color": {"field": "order", "type": "nominal", "scale": {"domain": ["Oscillating", "Quasi-stationary"], "range": ["#7f7f7f", "#cccccc"]}, "legend": {"title": "System order", "orient": "none", "legendX": 554, "legendY": 122, "symbolType": "square", "symbolSize": 1700, "symbolStrokeWidth": 0, "symbolOpacity": 1, "rowPadding": 0, "labelOffset": 8, "titlePadding": 8}},
            "stroke": {"field": "order", "type": "nominal", "scale": {"domain": ["Oscillating", "Quasi-stationary"], "range": ["#7f7f7f", "#cccccc"]}, "legend": null}
          }
        },
        {
          "data": {"values": [{"panel": "C"}]},
          "mark": {"type": "text", "align": "left", "baseline": "alphabetic", "fontSize": 32, "fontWeight": "bold", "color": "#000000"},
          "encoding": {"text": {"field": "panel"}, "x": {"datum": -9.05, "type": "quantitative"}, "y": {"datum": 0.957, "type": "quantitative"}}
        }
      ]
    }
  ]
}
